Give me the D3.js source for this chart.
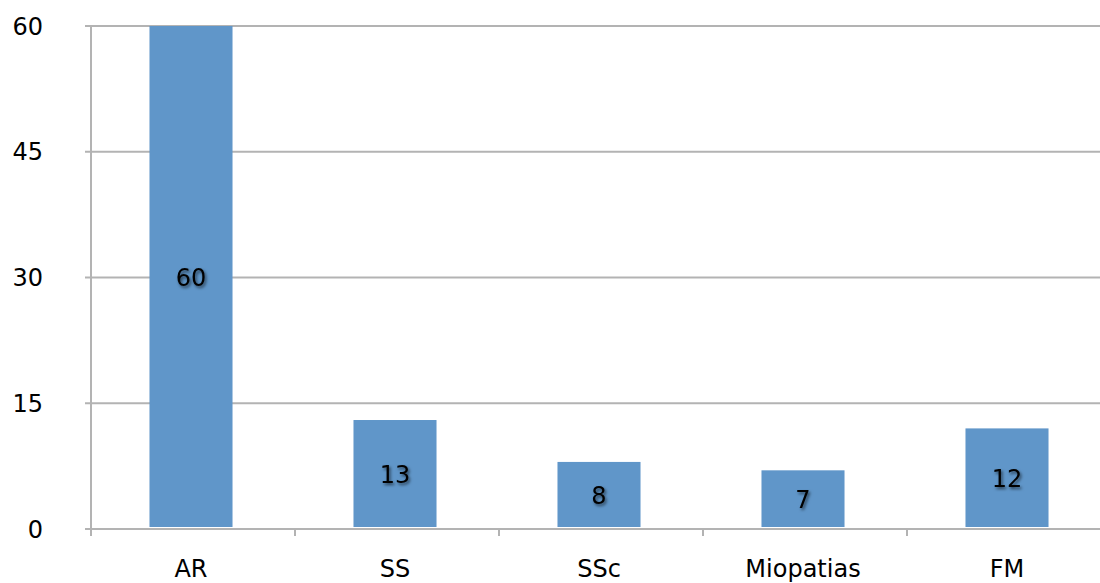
<!DOCTYPE html>
<html><head><meta charset="utf-8">
<script src="https://cdn.jsdelivr.net/npm/d3@7"></script>
<style>body{margin:0;background:#fff}svg{display:block}</style>
</head><body>
<script>
const categories = ["AR","SS","SSc","Miopatias","FM"];
const values = [60,13,8,7,12];
const yTicks = [0,15,30,45,60];

const W=1100,H=583;
const svg=d3.select("body").append("svg").attr("width",W).attr("height",H);
const defs=svg.append("defs");
const f=defs.append("filter").attr("id","sh").attr("x","-50%").attr("y","-50%").attr("width","200%").attr("height","200%");
f.append("feDropShadow").attr("dx",1.5).attr("dy",2).attr("stdDeviation",1.8).attr("flood-color","#000").attr("flood-opacity",0.6);

const x=d3.scaleBand().domain(categories).range([91,1111]).paddingInner(0.593).paddingOuter(0.2965);
const y=d3.scaleLinear().domain([0,60]).range([529,26]);
const grid="#b3b3b3";
const font="'DejaVu Sans', Verdana, sans-serif";

// gridlines
svg.append("g").selectAll("line").data(yTicks).join("line")
  .attr("x1",85).attr("x2",W).attr("y1",d=>y(d)).attr("y2",d=>y(d))
  .attr("stroke",grid).attr("stroke-width",2);
// y axis line
svg.append("line").attr("x1",91).attr("x2",91).attr("y1",y(60)).attr("y2",536).attr("stroke",grid).attr("stroke-width",2);
// bottom ticks
const tickX=d3.range(categories.length+1).map(i=>x.range()[0]+i*x.step());
svg.append("g").selectAll("line").data(tickX).join("line")
  .attr("x1",d=>d).attr("x2",d=>d).attr("y1",529).attr("y2",536).attr("stroke",grid).attr("stroke-width",2);

// y tick labels
svg.append("g").selectAll("text").data(yTicks).join("text")
  .attr("x",43).attr("y",d=>y(d)).attr("dy","0.36em").attr("text-anchor","end")
  .attr("font-family",font).attr("font-size",24).attr("fill","#000").text(d=>d);

// bars
svg.append("g").selectAll("rect").data(values).join("rect")
  .attr("x",(d,i)=>x(categories[i])-2).attr("width",x.bandwidth())
  .attr("y",d=>y(d)).attr("height",d=>y(0)-2-y(d)).attr("fill","#6096c9");

// value labels
svg.append("g").selectAll("text").data(values).join("text")
  .attr("x",(d,i)=>x(categories[i])-2+x.bandwidth()/2).attr("y",d=>(y(d)+y(0))/2)
  .attr("dy","0.36em").attr("text-anchor","middle").attr("filter","url(#sh)")
  .attr("font-family",font).attr("font-size",24).attr("fill","#000").text(d=>d);

// category labels
svg.append("g").selectAll("text").data(categories).join("text")
  .attr("x",d=>x(d)-2+x.bandwidth()/2).attr("y",577).attr("text-anchor","middle")
  .attr("font-family",font).attr("font-size",24).attr("fill","#000").text(d=>d);
</script>
</body></html>
